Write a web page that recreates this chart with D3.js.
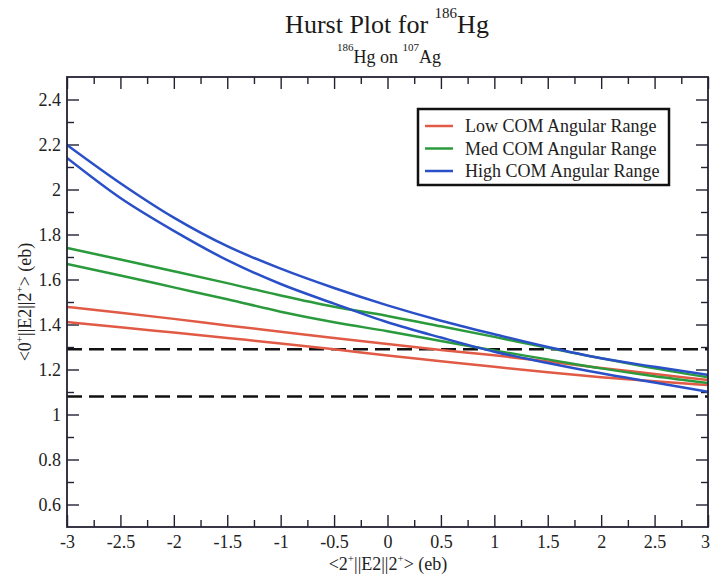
<!DOCTYPE html>
<html>
<head>
<meta charset="utf-8">
<script src="https://cdn.jsdelivr.net/npm/d3@7"></script>
<style>
  body { margin: 0; background: #fff; }
  svg { display: block; font-family: "Liberation Serif", "DejaVu Serif", serif; }
</style>
</head>
<body>
<div id="chart"></div>
<script>
// values
var xs = [-3, -2.5, -2, -1.5, -1, -0.5, 0, 0.5, 1, 1.5, 2, 2.5, 3];
var lowUpper  = [1.478, 1.452, 1.425, 1.396, 1.368, 1.340, 1.313, 1.287, 1.263, 1.236, 1.207, 1.180, 1.153];
var lowLower  = [1.411, 1.388, 1.364, 1.340, 1.316, 1.290, 1.262, 1.237, 1.212, 1.188, 1.166, 1.148, 1.131];
var medUpper  = [1.740, 1.689, 1.637, 1.584, 1.529, 1.479, 1.438, 1.392, 1.345, 1.296, 1.250, 1.205, 1.165];
var medLower  = [1.669, 1.618, 1.565, 1.512, 1.457, 1.410, 1.370, 1.327, 1.284, 1.245, 1.205, 1.170, 1.140];
var highUpper = [2.198, 2.028, 1.875, 1.748, 1.648, 1.562, 1.485, 1.417, 1.357, 1.300, 1.250, 1.212, 1.176];
var highLower = [2.140, 1.962, 1.816, 1.686, 1.580, 1.493, 1.410, 1.342, 1.279, 1.229, 1.183, 1.142, 1.101];
var refLines = [1.29, 1.08];

var seriesNames = ["Low COM Angular Range", "Med COM Angular Range", "High COM Angular Range"];
var seriesColors = ["#e05a45", "#2a9a3c", "#2a50c8"];

var xTicks = [-3, -2.5, -2, -1.5, -1, -0.5, 0, 0.5, 1, 1.5, 2, 2.5, 3];
var xMinor = [-2.75, -2.25, -1.75, -1.25, -0.75, -0.25, 0.25, 0.75, 1.25, 1.75, 2.25, 2.75];
var yTicks = [0.6, 0.8, 1, 1.2, 1.4, 1.6, 1.8, 2, 2.2, 2.4];
var yMinor = [0.7, 0.9, 1.1, 1.3, 1.5, 1.7, 1.9, 2.1, 2.3];

var W = 711, H = 579;
var margin = { top: 77, right: 3, bottom: 52, left: 67 },
    width = W - margin.left - margin.right,
    height = H - margin.top - margin.bottom;

var svg = d3.select("#chart").append("svg")
    .attr("width", W)
    .attr("height", H);

var g = svg.append("g")
    .attr("transform", "translate(" + margin.left + "," + margin.top + ")");

var x = d3.scaleLinear().domain([-3, 3]).range([0, width]);
var y = d3.scaleLinear().domain([0.5, 2.5]).range([height, 0]);

var axisColor = "#223";

// axes, ticks pointing inward on all four sides
function styleAxis(sel) {
    sel.select(".domain").remove();
    sel.selectAll("line").attr("stroke", axisColor).attr("stroke-width", 1.4);
    sel.selectAll("text")
        .attr("fill", "#222")
        .style("font-family", "'Liberation Serif', serif")
        .style("font-size", "18px");
}

var xAxis = g.append("g").attr("transform", "translate(0," + height + ")")
    .call(d3.axisBottom(x).tickValues(xTicks).tickSize(-12).tickPadding(8).tickFormat(String))
    .call(styleAxis);
// last label sits at the window edge, nudge it in so it stays whole
xAxis.selectAll(".tick text")
    .filter(function (d) { return d === 3; })
    .attr("dx", -3);

g.append("g").attr("transform", "translate(0," + height + ")")
    .call(d3.axisBottom(x).tickValues(xMinor).tickSize(-7).tickFormat(""))
    .call(styleAxis);
g.append("g")
    .call(d3.axisTop(x).tickValues(xTicks).tickSize(-12).tickFormat(""))
    .call(styleAxis);
g.append("g")
    .call(d3.axisTop(x).tickValues(xMinor).tickSize(-7).tickFormat(""))
    .call(styleAxis);

g.append("g")
    .call(d3.axisLeft(y).tickValues(yTicks).tickSize(-12).tickPadding(6).tickFormat(String))
    .call(styleAxis);
g.append("g")
    .call(d3.axisLeft(y).tickValues(yMinor).tickSize(-7).tickFormat(""))
    .call(styleAxis);
g.append("g").attr("transform", "translate(" + width + ",0)")
    .call(d3.axisRight(y).tickValues(yTicks).tickSize(-12).tickFormat(""))
    .call(styleAxis);
g.append("g").attr("transform", "translate(" + width + ",0)")
    .call(d3.axisRight(y).tickValues(yMinor).tickSize(-7).tickFormat(""))
    .call(styleAxis);

g.append("defs").append("clipPath").attr("id", "clip")
    .append("rect").attr("width", width).attr("height", height);

var plot = g.append("g").attr("clip-path", "url(#clip)");

// dashed reference lines
plot.selectAll(".ref")
    .data(refLines)
    .enter().append("line")
    .attr("class", "ref")
    .attr("x1", 0).attr("x2", width)
    .attr("y1", function (d) { return y(d); })
    .attr("y2", function (d) { return y(d); })
    .attr("stroke", "#111")
    .attr("stroke-width", 2.5)
    .attr("stroke-dasharray", "15,7");

var line = d3.line()
    .x(function (d) { return x(d[0]); })
    .y(function (d) { return y(d[1]); })
    .curve(d3.curveMonotoneX);

var curves = [
    { vals: lowUpper, c: 0 }, { vals: lowLower, c: 0 },
    { vals: medUpper, c: 1 }, { vals: medLower, c: 1 },
    { vals: highUpper, c: 2 }, { vals: highLower, c: 2 }
];

plot.selectAll(".curve")
    .data(curves)
    .enter().append("path")
    .attr("class", "curve")
    .attr("fill", "none")
    .attr("stroke", function (d) { return seriesColors[d.c]; })
    .attr("stroke-width", 2.5)
    .attr("d", function (d) { return line(xs.map(function (v, i) { return [v, d.vals[i]]; })); });

// frame
g.append("rect")
    .attr("width", width).attr("height", height)
    .attr("fill", "none")
    .attr("stroke", axisColor)
    .attr("stroke-width", 1.8);

// legend
var legend = svg.append("g").attr("transform", "translate(418,109)");
legend.append("rect")
    .attr("width", 251).attr("height", 76)
    .attr("fill", "#fff")
    .attr("stroke", "#111")
    .attr("stroke-width", 2.5);
var items = legend.selectAll(".item")
    .data(seriesNames)
    .enter().append("g")
    .attr("transform", function (d, i) { return "translate(0," + (17 + i * 22.5) + ")"; });
items.append("line")
    .attr("x1", 7).attr("x2", 35)
    .attr("stroke", function (d, i) { return seriesColors[i]; })
    .attr("stroke-width", 2.5);
items.append("text")
    .attr("x", 47).attr("dy", "0.35em")
    .attr("fill", "#222")
    .style("font-size", "18px")
    .text(function (d) { return d; });

// titles
var title = svg.append("text")
    .attr("x", 387).attr("y", 33)
    .attr("text-anchor", "middle")
    .attr("fill", "#1a1a1a")
    .style("font-size", "26px");
title.append("tspan").text("Hurst Plot for ");
title.append("tspan").attr("dy", -15).style("font-size", "15px").text("186");
title.append("tspan").attr("dy", 15).text("Hg");

var sub = svg.append("text")
    .attr("x", 389).attr("y", 63)
    .attr("text-anchor", "middle")
    .attr("fill", "#1a1a1a")
    .style("font-size", "18px");
sub.append("tspan").attr("dy", -12).style("font-size", "11px").text("186");
sub.append("tspan").attr("dy", 12).text("Hg on ");
sub.append("tspan").attr("dy", -12).style("font-size", "11px").text("107");
sub.append("tspan").attr("dy", 12).text("Ag");

// axis labels
var xl = svg.append("text")
    .attr("x", 388).attr("y", 570)
    .attr("text-anchor", "middle")
    .attr("fill", "#222")
    .style("font-size", "18px");
xl.append("tspan").text("<2");
xl.append("tspan").attr("dy", -8).style("font-size", "11px").text("+");
xl.append("tspan").attr("dy", 8).text("||E2||2");
xl.append("tspan").attr("dy", -8).style("font-size", "11px").text("+");
xl.append("tspan").attr("dy", 8).text("> (eb)");

var yl = svg.append("text")
    .attr("transform", "translate(31,302) rotate(-90)")
    .attr("text-anchor", "middle")
    .attr("fill", "#222")
    .style("font-size", "18px");
yl.append("tspan").text("<0");
yl.append("tspan").attr("dy", -8).style("font-size", "11px").text("+");
yl.append("tspan").attr("dy", 8).text("||E2||2");
yl.append("tspan").attr("dy", -8).style("font-size", "11px").text("+");
yl.append("tspan").attr("dy", 8).text("> (eb)");
</script>
</body>
</html>
